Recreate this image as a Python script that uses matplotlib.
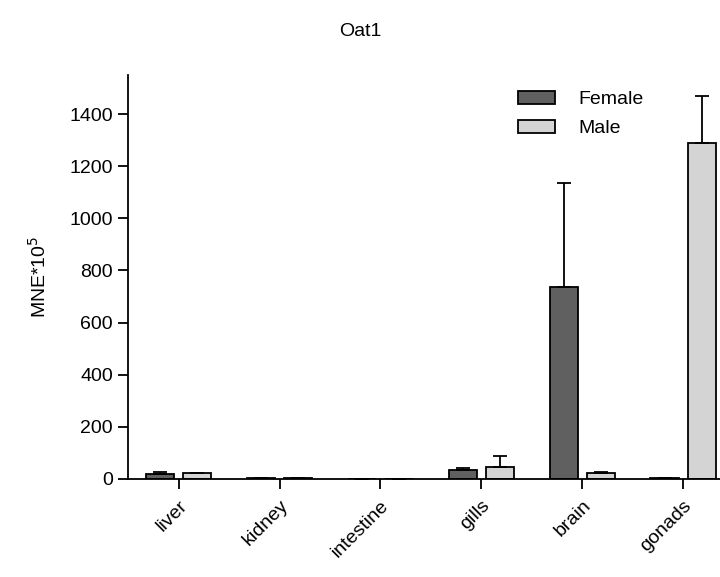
import numpy as np
import matplotlib.pyplot as plt

plt.rcParams['font.family'] = ['Liberation Sans', 'DejaVu Sans']

tissues = ['liver', 'kidney', 'intestine', 'gills', 'brain', 'gonads']
female = [18, 3, 1, 35, 737, 3]
female_err = [9, 1, 0.5, 7, 398, 1]
male = [21, 3, 1, 47, 24, 1291]
male_err = [1.5, 1, 0.5, 40, 1, 179]

fig = plt.figure(figsize=(7.2, 5.77), dpi=100)
ax = fig.add_axes([0.178, 0.170, 0.841, 0.700])

x = np.arange(len(tissues))
w = 0.28
off = 0.185
ekw = dict(elinewidth=1.3, capthick=1.3, ecolor='black')
ax.bar(x - off, female, w, color='#606060', edgecolor='black', linewidth=1.3,
       yerr=[np.zeros(len(x)), female_err], capsize=5, error_kw=ekw, label='Female')
ax.bar(x + off, male, w, color='#d4d4d4', edgecolor='black', linewidth=1.3,
       yerr=[np.zeros(len(x)), male_err], capsize=5, error_kw=ekw, label='Male')

ax.set_xlim(-0.5, 5.5)
ax.set_ylim(0, 1550)
ax.set_yticks(range(0, 1401, 200))
ax.set_xticks(x)
ax.set_xticklabels(tissues, rotation=45, ha='right', rotation_mode='anchor')

for s in ['top', 'right']:
    ax.spines[s].set_visible(False)
for s in ['left', 'bottom']:
    ax.spines[s].set_linewidth(1.3)
ax.tick_params(axis='both', direction='out', length=7, width=1.3, labelsize=14, pad=4)
ax.tick_params(axis='x', pad=6)

ax.set_ylabel('MNE*10$^5$', fontsize=14, labelpad=14)
fig.text(0.5, 0.945, 'Oat1', ha='center', va='center', fontsize=14)

ax.legend(loc='upper left', bbox_to_anchor=(0.719, 0.842), bbox_transform=fig.transFigure,
          frameon=False, fontsize=14, handlelength=1.9, handleheight=0.65,
          labelspacing=0.6, handletextpad=1.2, borderaxespad=0, borderpad=0)

fig.savefig('out.png', dpi=100)
